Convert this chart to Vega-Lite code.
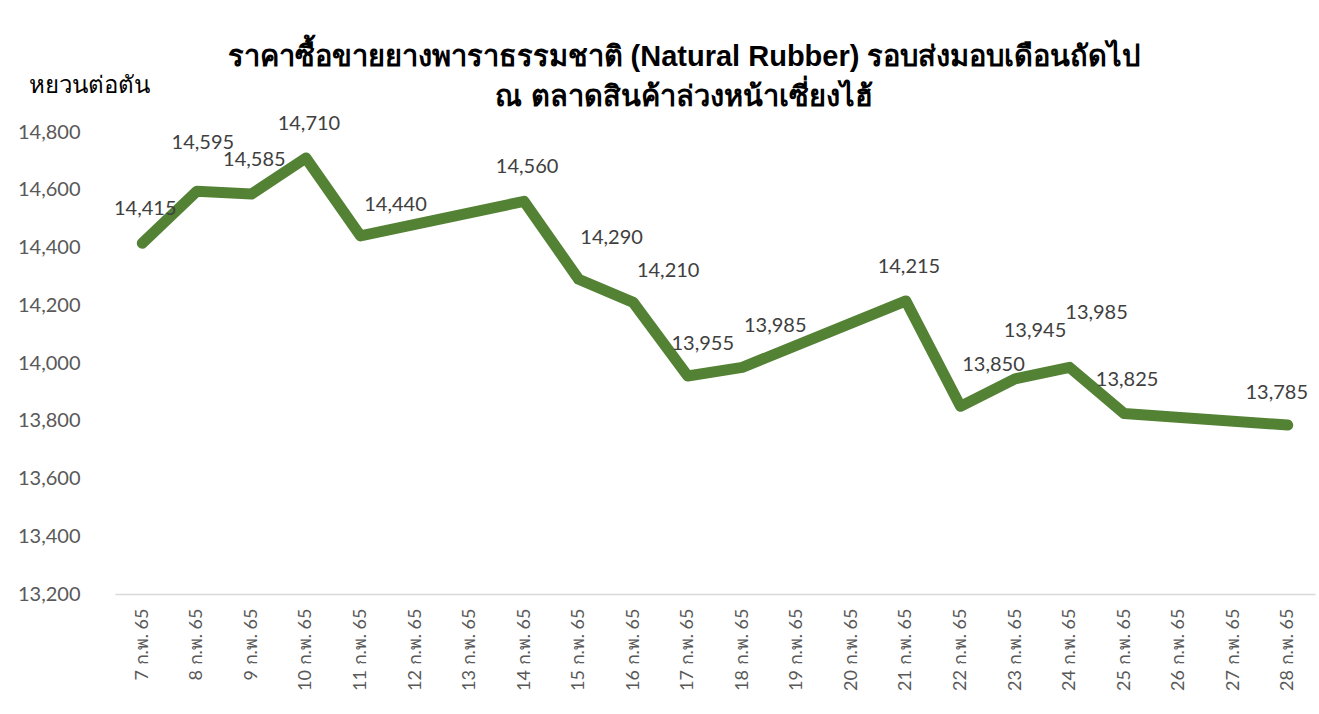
{
  "$schema": "https://vega.github.io/schema/vega-lite/v6.json",
  "width": 1200,
  "height": 462,
  "autosize": {"type": "none"},
  "padding": {"left": 115, "top": 132, "right": 4, "bottom": 120},
  "background": "white",
  "config": {"view": {"stroke": null}, "font": "Lato"},
  "title": {
    "text": ["ราคาซื้อขายยางพาราธรรมชาติ (Natural Rubber) รอบส่งมอบเดือนถัดไป", "ณ ตลาดสินค้าล่วงหน้าเซี่ยงไฮ้"],
    "anchor": "middle",
    "frame": "group",
    "dx": -31,
    "dy": 61,
    "fontSize": 29,
    "fontWeight": "bold",
    "font": "Liberation Sans",
    "color": "black",
    "lineHeight": 40,
    "offset": 22
  },
  "data": {"values": [
    {"date": "7 ก.พ. 65", "price": 14415},
    {"date": "8 ก.พ. 65", "price": 14595},
    {"date": "9 ก.พ. 65", "price": 14585},
    {"date": "10 ก.พ. 65", "price": 14710},
    {"date": "11 ก.พ. 65", "price": 14440},
    {"date": "14 ก.พ. 65", "price": 14560},
    {"date": "15 ก.พ. 65", "price": 14290},
    {"date": "16 ก.พ. 65", "price": 14210},
    {"date": "17 ก.พ. 65", "price": 13955},
    {"date": "18 ก.พ. 65", "price": 13985},
    {"date": "21 ก.พ. 65", "price": 14215},
    {"date": "22 ก.พ. 65", "price": 13850},
    {"date": "23 ก.พ. 65", "price": 13945},
    {"date": "24 ก.พ. 65", "price": 13985},
    {"date": "25 ก.พ. 65", "price": 13825},
    {"date": "28 ก.พ. 65", "price": 13785}
  ]},
  "encoding": {
    "x": {
      "field": "date", "type": "ordinal",
      "scale": {"type": "point", "padding": 0.5, "domain": ["7 ก.พ. 65","8 ก.พ. 65","9 ก.พ. 65","10 ก.พ. 65","11 ก.พ. 65","12 ก.พ. 65","13 ก.พ. 65","14 ก.พ. 65","15 ก.พ. 65","16 ก.พ. 65","17 ก.พ. 65","18 ก.พ. 65","19 ก.พ. 65","20 ก.พ. 65","21 ก.พ. 65","22 ก.พ. 65","23 ก.พ. 65","24 ก.พ. 65","25 ก.พ. 65","26 ก.พ. 65","27 ก.พ. 65","28 ก.พ. 65"]},
      "axis": {
        "title": null, "labelAngle": -90, "labelAlign": "right", "labelBaseline": "middle",
        "ticks": false, "domainColor": "#d9d9d9", "domainWidth": 1.5, "labelPadding": 14,
        "labelColor": "#595959", "labelFontSize": 18, "grid": false
      }
    },
    "y": {
      "field": "price", "type": "quantitative",
      "scale": {"domain": [13200, 14800], "nice": false, "zero": false},
      "axis": {
        "values": [13200,13400,13600,13800,14000,14200,14400,14600,14800],
        "format": ",d", "domain": false, "ticks": false, "grid": false,
        "labelPadding": 35, "labelFontSize": 20, "labelColor": "#595959",
        "title": "หยวนต่อตัน", "titleAngle": 0, "titleAlign": "left", "titleBaseline": "middle",
        "titleX": -87, "titleY": -47, "titleFontSize": 24, "titleFontWeight": "normal", "titleColor": "black"
      }
    }
  },
  "layer": [
    {"mark": {"type": "line", "color": "#548235", "strokeWidth": 11, "strokeCap": "round", "strokeJoin": "round"}},
    {"transform": [{"filter": {"field": "date", "oneOf": ["7 ก.พ. 65","9 ก.พ. 65","10 ก.พ. 65","14 ก.พ. 65","21 ก.พ. 65","25 ก.พ. 65"]}}],
     "mark": {"type": "text", "dx": 3, "dy": -34, "fontSize": 20, "color": "#404040", "baseline": "middle"},
     "encoding": {"text": {"field": "price", "type": "quantitative", "format": ",d"}}},
    {"transform": [{"filter": {"field": "date", "oneOf": ["17 ก.พ. 65"]}}],
     "mark": {"type": "text", "dx": 15, "dy": -32, "fontSize": 20, "color": "#404040", "baseline": "middle"},
     "encoding": {"text": {"field": "price", "type": "quantitative", "format": ",d"}}},
    {"transform": [{"filter": {"field": "date", "oneOf": ["28 ก.พ. 65"]}}],
     "mark": {"type": "text", "dx": -11, "dy": -32, "fontSize": 20, "color": "#404040", "baseline": "middle"},
     "encoding": {"text": {"field": "price", "type": "quantitative", "format": ",d"}}},
    {"transform": [{"filter": {"field": "date", "oneOf": ["15 ก.พ. 65","18 ก.พ. 65","22 ก.พ. 65"]}}],
     "mark": {"type": "text", "dx": 33, "dy": -41, "fontSize": 20, "color": "#404040", "baseline": "middle"},
     "encoding": {"text": {"field": "price", "type": "quantitative", "format": ",d"}}},
    {"transform": [{"filter": {"field": "date", "oneOf": ["11 ก.พ. 65","16 ก.พ. 65"]}}],
     "mark": {"type": "text", "dx": 35, "dy": -31, "fontSize": 20, "color": "#404040", "baseline": "middle"},
     "encoding": {"text": {"field": "price", "type": "quantitative", "format": ",d"}}},
    {"transform": [{"filter": {"field": "date", "oneOf": ["8 ก.พ. 65"]}}],
     "mark": {"type": "text", "dx": 6, "dy": -48, "fontSize": 20, "color": "#404040", "baseline": "middle"},
     "encoding": {"text": {"field": "price", "type": "quantitative", "format": ",d"}}},
    {"transform": [{"filter": {"field": "date", "oneOf": ["23 ก.พ. 65"]}}],
     "mark": {"type": "text", "dx": 20, "dy": -48, "fontSize": 20, "color": "#404040", "baseline": "middle"},
     "encoding": {"text": {"field": "price", "type": "quantitative", "format": ",d"}}},
    {"transform": [{"filter": {"field": "date", "oneOf": ["24 ก.พ. 65"]}}],
     "mark": {"type": "text", "dx": 27, "dy": -54, "fontSize": 20, "color": "#404040", "baseline": "middle"},
     "encoding": {"text": {"field": "price", "type": "quantitative", "format": ",d"}}}
  ]
}
